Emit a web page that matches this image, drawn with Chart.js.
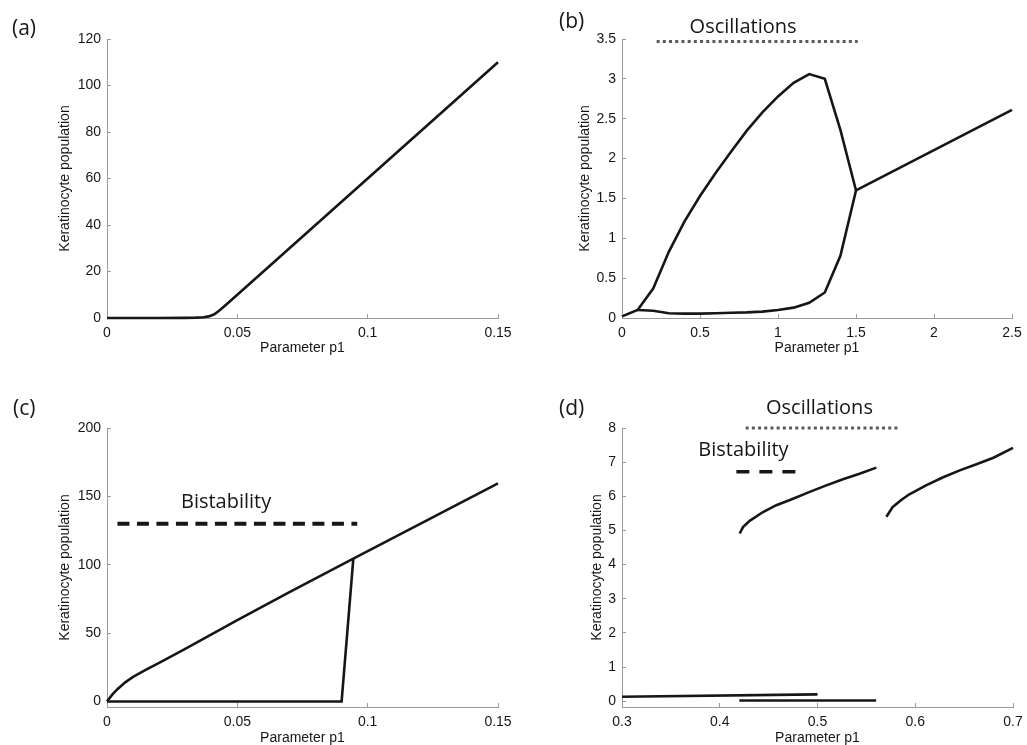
<!DOCTYPE html>
<html>
<head>
<meta charset="utf-8">
<script src="https://cdn.jsdelivr.net/npm/chart.js@4/dist/chart.umd.min.js"></script>
<style>
  body { margin: 0; background: #fff; }
  canvas { position: absolute; }
</style>
</head>
<body>
<canvas id="chart-a" width="520" height="372" style="left:0;top:0"></canvas>
<canvas id="chart-b" width="517" height="372" style="left:510px;top:0"></canvas>
<canvas id="chart-c" width="520" height="375" style="left:0;top:370px"></canvas>
<canvas id="chart-d" width="517" height="375" style="left:510px;top:370px"></canvas>
<script>
// (a) single steady state
const a_p1  = [0, 0.01, 0.02, 0.03, 0.034, 0.037, 0.039, 0.041, 0.043, 0.046, 0.05, 0.1, 0.15];
const a_pop = [0, 0, 0, 0.05, 0.15, 0.35, 0.7, 1.5, 3.1, 6, 10, 60, 110];
const a_xTicks = [0, 0.05, 0.1, 0.15];
const a_yTicks = [0, 20, 40, 60, 80, 100, 120];

// (b) limit cycle envelope (max / min) and steady branch
const b_upper_p1  = [0, 0.1, 0.2, 0.3, 0.4, 0.5, 0.6, 0.7, 0.8, 0.9, 1.0, 1.1, 1.2, 1.3, 1.4, 1.5, 2.5];
const b_upper_pop = [0.02, 0.1, 0.37, 0.83, 1.21, 1.53, 1.82, 2.09, 2.35, 2.58, 2.78, 2.95, 3.06, 3.0, 2.36, 1.6, 2.61];
const b_lower_p1  = [0.1, 0.2, 0.3, 0.4, 0.5, 0.6, 0.7, 0.8, 0.9, 1.0, 1.1, 1.2, 1.3, 1.4, 1.5];
const b_lower_pop = [0.1, 0.09, 0.06, 0.055, 0.055, 0.06, 0.065, 0.07, 0.08, 0.1, 0.13, 0.19, 0.32, 0.78, 1.6];
const b_osc_p1  = [0.222, 1.511];
const b_osc_pop = [3.47, 3.47];
const b_xTicks = [0, 0.5, 1, 1.5, 2, 2.5];
const b_yTicks = [0, 0.5, 1, 1.5, 2, 2.5, 3, 3.5];

// (c) bistable region
const c_upper_p1  = [0, 0.002, 0.004, 0.007, 0.01, 0.015, 0.02, 0.03, 0.05, 0.07, 0.0945, 0.15];
const c_upper_pop = [0, 5, 9, 14, 18, 23.3, 28.3, 38.5, 59.5, 80, 104.5, 159.5];
const c_lower_p1  = [0, 0.09, 0.0945];
const c_lower_pop = [0, 0, 104.5];
const c_bist_p1  = [0.004, 0.096];
const c_bist_pop = [130, 130];
const c_xTicks = [0, 0.05, 0.1, 0.15];
const c_yTicks = [0, 50, 100, 150, 200];

// (d) two high branches, two low branches
const d_hi1_p1  = [0.4204, 0.4238, 0.4306, 0.4443, 0.4579, 0.475, 0.492, 0.509, 0.526, 0.543, 0.5602];
const d_hi1_pop = [4.91, 5.1, 5.28, 5.54, 5.74, 5.93, 6.13, 6.32, 6.5, 6.66, 6.84];
const d_hi2_p1  = [0.5705, 0.577, 0.586, 0.594, 0.611, 0.628, 0.6455, 0.6626, 0.68, 0.7];
const d_hi2_pop = [5.4, 5.69, 5.9, 6.06, 6.32, 6.55, 6.76, 6.94, 7.13, 7.42];
const d_lo1_p1  = [0.3, 0.5];
const d_lo1_pop = [0.13, 0.2];
const d_lo2_p1  = [0.42, 0.56];
const d_lo2_pop = [0.02, 0.02];
const d_osc_p1  = [0.4265, 0.584];
const d_osc_pop = [8, 8];
const d_bist_p1  = [0.417, 0.48];
const d_bist_pop = [6.72, 6.72];
const d_xTicks = [0.3, 0.4, 0.5, 0.6, 0.7];
const d_yTicks = [0, 1, 2, 3, 4, 5, 6, 7, 8];

const INK = '#161616';
const AXIS_GREY = '#9a9a9a';
const tickFont = { family: '"Liberation Sans", Arial, sans-serif', size: 14, lineHeight: 1 };
const noteFont = '"Open Sans", sans-serif';

function line(xs, ys, style) {
  return Object.assign({
    data: xs.map((x, i) => ({ x: x, y: ys[i] })),
    showLine: true,
    pointRadius: 0,
    borderColor: INK,
    borderWidth: 2.6,
    tension: 0,
    clip: false
  }, style || {});
}
const dotted = { borderColor: '#5a5a5a', borderWidth: 3, borderDash: [3, 3.2] };

function scales(c) {
  return {
    x: {
      type: 'linear', min: c.xMin, max: c.xMax,
      afterBuildTicks: s => { s.ticks = c.xTicks.map(v => ({ value: v })); },
      // fixed axis box; end labels may hang over the plot edges
      afterFit: s => { s.height = c.xHeight; s.paddingLeft = 0; s.paddingRight = 0; },
      ticks: { color: INK, font: tickFont, padding: 12, maxRotation: 0, autoSkip: false, callback: v => String(v) },
      grid: { drawOnChartArea: false, tickLength: -4, color: AXIS_GREY },
      border: { color: AXIS_GREY, width: 1 },
      title: { display: true, text: 'Parameter p1', color: INK, font: tickFont, padding: { top: 0, bottom: c.xTitlePad } }
    },
    y: {
      type: 'linear', min: c.yMin, max: c.yMax,
      afterBuildTicks: s => { s.ticks = c.yTicks.map(v => ({ value: v })); },
      afterFit: s => { s.width = c.yWidth; s.paddingTop = 0; s.paddingBottom = 0; },
      ticks: { color: INK, font: tickFont, padding: 10, autoSkip: false, callback: v => String(v) },
      grid: { drawOnChartArea: false, tickLength: -4, color: AXIS_GREY },
      border: { color: AXIS_GREY, width: 1 },
      title: { display: true, text: 'Keratinocyte population', color: INK, font: tickFont, padding: { top: c.yTitlePad, bottom: 0 } }
    }
  };
}

// panel tag plus text labels placed in data units
function notes(tag, tagX, tagY, labels) {
  return {
    id: 'notes',
    afterDatasetsDraw(chart) {
      const ctx = chart.ctx, xs = chart.scales.x, ys = chart.scales.y;
      ctx.save();
      ctx.fillStyle = INK;
      ctx.textBaseline = 'alphabetic';
      ctx.textAlign = 'left';
      ctx.font = '21px ' + noteFont;
      ctx.fillText(tag, tagX, tagY);
      ctx.textAlign = 'center';
      ctx.font = '20px ' + noteFont;
      labels.forEach(n => ctx.fillText(n.text, xs.getPixelForValue(n.x), ys.getPixelForValue(n.y)));
      ctx.restore();
    }
  };
}

function make(id, datasets, sc, pad, plugin) {
  new Chart(document.getElementById(id), {
    type: 'scatter',
    data: { datasets: datasets },
    options: {
      responsive: false,
      animation: false,
      devicePixelRatio: 1,
      layout: { padding: pad },
      plugins: { legend: { display: false }, tooltip: { enabled: false } },
      scales: sc
    },
    plugins: [plugin]
  });
}

make('chart-a',
  [line(a_p1, a_pop)],
  scales({ xMin: 0, xMax: 0.15, xTicks: a_xTicks, yMin: 0, yMax: 120, yTicks: a_yTicks,
           xHeight: 54, yWidth: 107, xTitlePad: 17, yTitlePad: 58 }),
  { top: 39, right: 22, left: 0, bottom: 0 },
  notes('(a)', 12, 35, []));

make('chart-b',
  [line(b_upper_p1, b_upper_pop), line(b_lower_p1, b_lower_pop), line(b_osc_p1, b_osc_pop, dotted)],
  scales({ xMin: 0, xMax: 2.5, xTicks: b_xTicks, yMin: 0, yMax: 3.5, yTicks: b_yTicks,
           xHeight: 54, yWidth: 112, xTitlePad: 17, yTitlePad: 68 }),
  { top: 39, right: 15, left: 0, bottom: 0 },
  notes('(b)', 49, 28, [{ text: 'Oscillations', x: 0.776, y: 3.575 }]));

make('chart-c',
  [line(c_upper_p1, c_upper_pop), line(c_lower_p1, c_lower_pop),
   line(c_bist_p1, c_bist_pop, { borderWidth: 3.8, borderDash: [12, 7.5] })],
  scales({ xMin: 0, xMax: 0.15, xTicks: c_xTicks, yMin: -4, yMax: 200, yTicks: c_yTicks,
           xHeight: 38, yWidth: 107, xTitlePad: 0, yTitlePad: 58 }),
  { top: 58, right: 22, left: 0, bottom: 0 },
  notes('(c)', 13, 45, [{ text: 'Bistability', x: 0.0457, y: 141.8 }]));

make('chart-d',
  [line(d_hi1_p1, d_hi1_pop), line(d_hi2_p1, d_hi2_pop), line(d_lo1_p1, d_lo1_pop), line(d_lo2_p1, d_lo2_pop),
   line(d_osc_p1, d_osc_pop, dotted),
   line(d_bist_p1, d_bist_pop, { borderWidth: 3.5, borderDash: [13, 10] })],
  scales({ xMin: 0.3, xMax: 0.7, xTicks: d_xTicks, yMin: -0.17, yMax: 8, yTicks: d_yTicks,
           xHeight: 38, yWidth: 112, xTitlePad: 0, yTitlePad: 80 }),
  { top: 58, right: 14, left: 0, bottom: 0 },
  notes('(d)', 49, 45, [{ text: 'Oscillations', x: 0.502, y: 8.42 }, { text: 'Bistability', x: 0.4243, y: 7.17 }]));
</script>
</body>
</html>
